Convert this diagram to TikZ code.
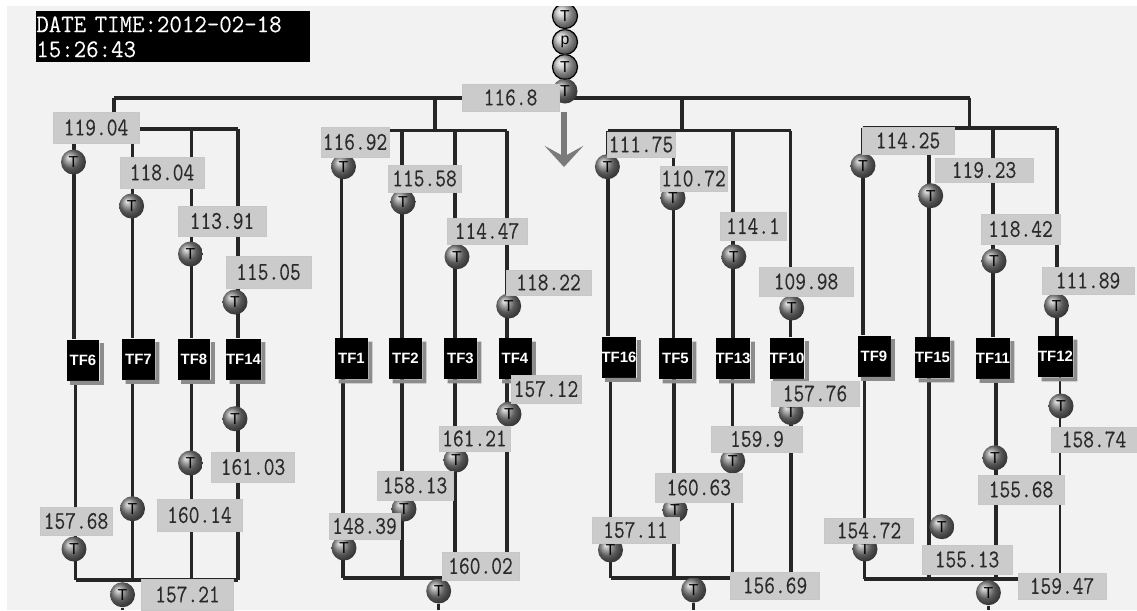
\documentclass[tikz,border=0pt]{standalone}
\usepackage{fontspec}
\setsansfont{Liberation Sans}
\newfontfamily\valfont{Latin Modern Mono}[FakeStretch=0.82,FakeBold=0.3]
\newfontfamily\stampfont{Latin Modern Mono}[FakeStretch=0.95,FakeBold=0.2]
\usetikzlibrary{arrows.meta,calc}
\definecolor{paper}{HTML}{F2F2F2}
\definecolor{valfill}{HTML}{CBCBCB}
\definecolor{ink}{HTML}{2A2A2A}
\tikzset{
  valbox/.style={fill=valfill,draw=black!22,line width=0.3pt,inner sep=0pt,text=ink,font=\fontsize{14.5}{15}\valfont},
  tball/.style={circle,shading=ball,ball color=black!50,minimum size=0.5cm,inner sep=0pt,text=black,font=\fontsize{9}{9}\sffamily},
  tpale/.style={tball,ball color=black!25,draw=black,line width=0.7pt},
  tfbox/.style={fill=black,minimum width=0.66cm,minimum height=0.82cm,inner sep=0pt,text=white,
    font=\fontsize{8.5}{9}\sffamily\bfseries},
  feed/.style={black!85,line width=1.8pt},
  busline/.style={black!85,line width=2.2pt}
}

\begin{document}
\begin{tikzpicture}[x=0.02cm,y=-0.02cm]
  \useasboundingbox (0,0) rectangle (1137,610);
  \fill[paper] (7,6) rectangle (1137,610);
  % transformer boxes
  \foreach \n/\x/\y in {6/83/360,7/138.5/359,8/194/359,14/243.5/359,1/351.5/358.5,2/405.5/358.5,3/460.5/358.5,4/515/358.5,
    16/619/357,5/675.5/358.5,13/733/358.5,10/787/358,9/874/356,15/932.5/357.5,11/993/358,12/1055.5/356.5}
    \node[tfbox] (tf\n) at (\x,\y) {TF\n};
  % upper and lower ends of each feeder
  \foreach \n/\xa/\ya/\xb/\yb/\lwa/\lwb in {6/74/129/75.5/580/2.2/1.8,7/132.5/129/132.5/580/2.2/2.2,8/191.7/129/191.7/580/1.5/1.5,14/238/129/238/580/1.8/1.8,
    1/341.5/130.7/343/578/1.8/1.8,2/402/130.7/402/578/2.2/2.2,3/455/130.7/455/578/1.8/1.8,4/507/130.7/507/578/1.8/1.8,
    16/608/130.7/610.5/578/1.8/1.5,5/673.6/130.7/674/578/1.5/1.8,13/733/130.7/732.4/578/1.8/1.8,10/790.6/130.7/791/578/1.5/1.8,
    9/863/128/864.4/579/2.1/2.1,15/929/128/929/579/1.8/1.8,11/993/128/996/579/1.8/1.8,12/1057/128/1060/579/1.8/1.5}{
    \coordinate (a\n) at (\xa,\ya);
    \coordinate (b\n) at (\xb,\yb);
    \draw[feed,line width=\lwa pt] (a\n) -- (a\n |- tf\n.north);
    \draw[feed,line width=\lwb pt] (tf\n.south -| b\n) -- (b\n);
    % shadow along the right and lower side of the box
    \fill[black!45] ($(tf\n.north east)+(0,4)$) -- ++(4,0) |- ($(tf\n.south west)+(4,4)$) -- ($(tf\n.south west)+(4,0)$) -- (tf\n.south east) -- cycle;
  }
  % incoming bus and its four drops
  \coordinate (d1) at (114,98);
  \coordinate (d2) at (435,98);
  \coordinate (d3) at (682,98);
  \coordinate (d4) at (969.5,98);
  \draw[busline] (d1) -- (d4);
  \draw[busline] (d1) -- (d1 |- a6);
  \draw[busline] (d2) -- (d2 |- a1);
  \draw[busline] (d3) -- (d3 |- a16);
  \draw[busline] (d4) -- (d4 |- a9);
  \foreach \p/\q in {a6/a14,a1/a4,a16/a10,a9/a12,b6/b14,b1/b4,b16/b10,b9/b12} \draw[feed] (\p) -- (\q);
  % sensors on the feeders
  \foreach \n/\x/\y in {6a/73.5/162,7a/131.6/206,8a/190.5/254,14a/235/302,1a/343.5/166.7,2a/403/202,3a/457/256.7,4a/508.7/306,
    16a/607.4/166.7,5a/673/198,13a/733.8/256.7,10a/791.7/308,9a/863/165.7,15a/930.7/195.7,11a/994/261,12a/1056.4/305.7,
    6b/74/549,7b/132.5/508.7,8b/190.5/463,14b/235/418.7,1b/344/548,2b/404/509,3b/456/460,4b/509/414,
    16b/610.5/550,5b/675/510,13b/732.7/461,10b/791/412.5,9b/865/549,15b/941.8/526.7,11b/995/457.7,12b/1061/406}
    \node[tball] (t\n) at (\x,\y) {T};
  % outgoing sensors under the lower buses
  \foreach \n/\x/\y/\q in {1/122.5/594.7/b6,2/438.7/591/b1,3/693.7/590/b16,4/988.4/592.7/b9}{
    \node[tball] (out\n) at (\x,\y) {T};
    \coordinate (end\n) at (\x,610);
    \draw[feed] (out\n.north) -- (out\n.north |- \q);
    \draw[feed] (out\n.south) -- (end\n);
  }
  % sensor stack at the top
  \node[tpale] (s1) at (565,16) {T};
  \node[tpale] (s2) at (565,42) {p};
  \node[tpale] (s3) at (565,67) {T};
  \node[tball] (s4) at (565,91) {T};
  \draw[feed] (s1) -- (s2) -- (s3) -- (s4);
  \fill[white] (0,0) rectangle (1137,6);
  % arrow
  \coordinate (arrtop) at (564,112);
  \coordinate (arrtip) at (564,167);
  \draw[-{Stealth[length=12pt,width=22pt,inset=6pt]},line width=3.6pt,black!52] (arrtop) -- (arrtip);
  % measured values
  \foreach \n/\x/\y/\w/\h/\val in {0/510.5/97.5/97/27/116.8,6a/96/127.5/86/31/119.04,7a/162/172.5/84/31/118.04,8a/222/221/88/30/113.91,14a/268.5/272/85/32/115.05,
    1a/355/142/68/30/116.92,2a/424.5/178.5/73/27/115.58,3a/487/231/80/26/114.47,4a/548.5/282.5/85/25/118.22,
    16a/641/144.5/68/25/111.75,5a/693.5/178.5/67/25/110.72,13a/753/226/66/28/114.1,10a/806/281.5/94/29/109.98,
    9a/908/140.5/92/27/114.25,15a/984/170/98/24/119.23,11a/1020.5/229/79/30/118.42,12a/1088/280.5/92/27/111.89,
    6b/76/521/72/28/157.68,8b/199.5/515/85/32/160.14,14b/253/467/83/30/161.03,g1/187.5/594.5/92/31/157.21,
    1b/364.5/526/71/26/148.39,2b/415/485.5/76/29/158.13,3b/474.5/438.5/71/25/161.21,4b/546/389/70/28/157.12,g2/480.5/566/77/28/160.02,
    16b/635.5/530/87/26/157.11,5b/698.75/487.5/87/29/160.63,13b/757/439/91/26/159.9,10b/815/393.5/88/25/157.76,g3/775/585.5/89/27/156.69,
    9b/869/530.5/89/25/154.72,15b/967/559.5/90/29/155.13,11b/1021/489.5/86/29/155.68,12b/1094/439.5/86/25/158.74,g4/1062/586/88/26/159.47}
    \node[valbox,minimum width=\w*0.02cm,minimum height=\h*0.02cm] (v\n) at (\x,\y) {\val};
  % time stamp
  \node[fill=black,text=white,anchor=north west,inner sep=0pt,text width=5.48cm,minimum height=1.02cm,align=left,
    font=\fontsize{14.5}{14.2}\stampfont] (stamp) at (36,11) {DATE TIME:2012-02-18\\15:26:43};
\end{tikzpicture}
\end{document}
